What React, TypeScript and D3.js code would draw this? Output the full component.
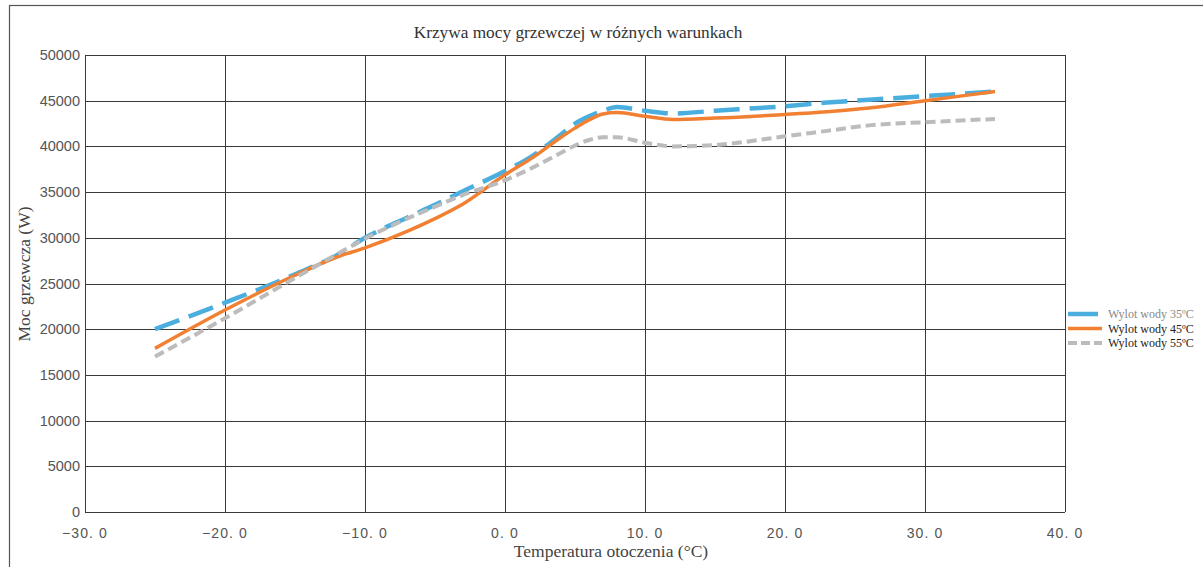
import React, { useEffect, useRef } from 'react';
import * as d3 from 'd3';

const width = 1203;
const height = 567;
const margin = { top: 55, left: 85, bottom: 55, right: 138 };

const title = 'Krzywa mocy grzewczej w różnych warunkach';
const xLabel = 'Temperatura otoczenia (°C)';
const yLabel = 'Moc grzewcza (W)';

// ambient temperature (°C)
const temps = [-25, -20, -15, -12, -10, -7, -5, -3, 0, 2, 4, 5, 6, 7, 8, 10, 12, 15, 20, 23, 26, 30, 35];

// heating power (W) per outlet water temperature
const water35 = [20000, 22900, 26000, 28100, 30000, 32200, 33600, 35100, 37300, 39000, 41300, 42500, 43300, 43900, 44300, 43900, 43600, 43900, 44400, 44800, 45100, 45500, 46000];
const water45 = [17900, 22100, 25900, 27900, 28900, 30700, 32100, 33700, 36900, 38800, 41000, 42000, 42900, 43550, 43700, 43300, 42950, 43100, 43500, 43800, 44200, 45000, 46000];
const water55 = [17000, 21200, 25600, 28200, 29900, 32100, 33400, 34700, 36300, 37700, 39300, 40100, 40700, 41000, 41000, 40400, 40000, 40150, 41100, 41700, 42300, 42650, 43000];

const seriesNames = ['Wylot wody 35ºC', 'Wylot wody 45ºC', 'Wylot wody 55ºC'];
const seriesColors = ['#4aaede', '#f28032', '#bcbcbc'];
const seriesDash = ['26 10', null, '10 5'];
const seriesWidth = [4.5, 3.5, 4];
const legendTextColors = ['#888', '#222', '#222'];

const xTicks = [-30, -20, -10, 0, 10, 20, 30, 40];
const yTicks = [0, 5000, 10000, 15000, 20000, 25000, 30000, 35000, 40000, 45000, 50000];

const App = () => {
  const ref = useRef<SVGSVGElement>(null);

  useEffect(() => {
    const svg = d3.select(ref.current);
    svg.selectAll('*').remove();

    const x = d3.scaleLinear().domain([-30, 40]).range([margin.left, width - margin.right]);
    const y = d3.scaleLinear().domain([0, 50000]).range([height - margin.bottom, margin.top]);

    // outer frame
    svg.append('rect')
      .attr('x', 9.5).attr('y', 5.5)
      .attr('width', 1210).attr('height', 600)
      .attr('fill', 'none').attr('stroke', '#555').attr('stroke-width', 1.2);

    // grid
    const grid = svg.append('g');
    grid.selectAll('line.v')
      .data(xTicks)
      .join('line')
      .attr('x1', d => Math.round(x(d)) + 0.5).attr('x2', d => Math.round(x(d)) + 0.5)
      .attr('y1', y(0)).attr('y2', y(50000))
      .attr('stroke', '#3a3a3a').attr('stroke-width', 1);
    grid.selectAll('line.h')
      .data(yTicks)
      .join('line')
      .attr('y1', d => Math.round(y(d)) + 0.5).attr('y2', d => Math.round(y(d)) + 0.5)
      .attr('x1', x(-30)).attr('x2', x(40))
      .attr('stroke', '#3a3a3a').attr('stroke-width', 1);

    // tick labels
    svg.append('g').selectAll('text')
      .data(yTicks)
      .join('text')
      .attr('x', x(-30) - 5)
      .attr('y', d => y(d))
      .attr('dy', '0.35em')
      .attr('text-anchor', 'end')
      .attr('font-family', 'Liberation Sans, Arial, sans-serif')
      .attr('font-size', 14.5)
      .attr('fill', '#555')
      .text(d => String(d));

    svg.append('g').selectAll('text')
      .data(xTicks)
      .join('text')
      .attr('x', d => x(d))
      .attr('y', height - margin.bottom + 26)
      .attr('text-anchor', 'middle')
      .attr('font-family', 'Liberation Sans, Arial, sans-serif')
      .attr('font-size', 14)
      .attr('letter-spacing', 1.1)
      .attr('fill', '#555')
      .text(d => `${d < 0 ? '−' : ''}${Math.abs(d)}. 0`);

    // titles
    svg.append('text')
      .attr('x', 578).attr('y', 38)
      .attr('text-anchor', 'middle')
      .attr('font-family', 'Liberation Serif, Times New Roman, serif')
      .attr('font-size', 17.3)
      .attr('fill', '#333')
      .text(title);

    svg.append('text')
      .attr('x', 611).attr('y', 557)
      .attr('text-anchor', 'middle')
      .attr('font-family', 'Liberation Serif, Times New Roman, serif')
      .attr('font-size', 17.5)
      .attr('fill', '#444')
      .text(xLabel);

    svg.append('text')
      .attr('transform', `translate(30,274) rotate(-90)`)
      .attr('text-anchor', 'middle')
      .attr('font-family', 'Liberation Serif, Times New Roman, serif')
      .attr('font-size', 17.5)
      .attr('fill', '#444')
      .text(yLabel);

    // lines
    const allSeries = [water35, water45, water55];
    const line = d3.line<number>()
      .x((d, i) => x(temps[i]))
      .y(d => y(d))
      .curve(d3.curveMonotoneX);

    allSeries.forEach((vals, i) => {
      svg.append('path')
        .datum(vals)
        .attr('d', line)
        .attr('fill', 'none')
        .attr('stroke', seriesColors[i])
        .attr('stroke-width', seriesWidth[i])
        .attr('stroke-dasharray', seriesDash[i])
        .attr('stroke-linejoin', 'round');
    });

    // legend
    const legend = svg.append('g');
    const legendY = d3.scalePoint<number>().domain([0, 1, 2]).range([314, 343]);
    seriesNames.forEach((name, i) => {
      const ly = legendY(i) as number;
      legend.append('line')
        .attr('x1', 1068).attr('x2', 1102)
        .attr('y1', ly).attr('y2', ly)
        .attr('stroke', seriesColors[i])
        .attr('stroke-width', seriesWidth[i])
        .attr('stroke-dasharray', i === 0 ? '30 4' : i === 2 ? '9 4' : null);
      legend.append('text')
        .attr('x', 1108).attr('y', ly)
        .attr('dy', '0.35em')
        .attr('font-family', 'Liberation Serif, Times New Roman, serif')
        .attr('font-size', 12)
        .attr('fill', legendTextColors[i])
        .text(name);
    });
  }, []);

  return (
    <svg
      ref={ref}
      width={width}
      height={height}
      style={{ position: 'absolute', left: 0, top: 0, background: '#fff' }}
    />
  );
};

export default App;
